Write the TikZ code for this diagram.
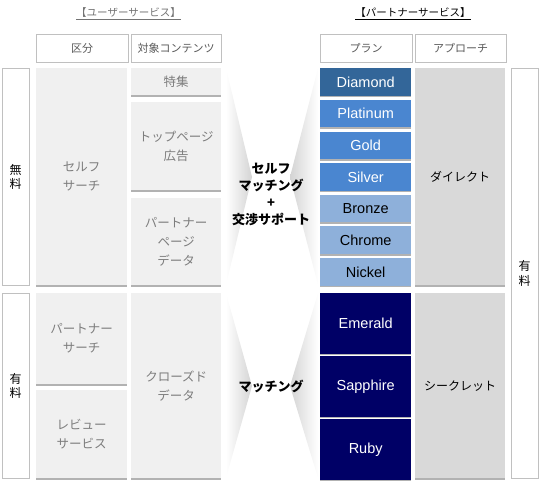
\documentclass[tikz,border=0pt]{standalone}
\usepackage{fontspec}
\setmainfont{Liberation Sans}
\newfontfamily\jp{Noto Sans CJK JP}
\usetikzlibrary{positioning,shadows}
\definecolor{cSoft}{RGB}{240,240,240}
\definecolor{cMid} {RGB}{217,217,217}
\definecolor{cLine}{RGB}{192,192,192}
\definecolor{cTxt} {RGB}{125,125,125}
\definecolor{cDia} {RGB}{51,102,153}
\definecolor{cHigh}{RGB}{74,134,208}
\definecolor{cLow} {RGB}{142,176,218}
\definecolor{cNavy}{RGB}{0,0,102}

\begin{document}
\begin{tikzpicture}[x=1pt,y=-1pt,
  title/.style={font=\jp\fontsize{10.5}{12}\selectfont,inner sep=0pt},
  head/.style={draw=cLine,fill=white,anchor=north west,minimum height=28pt,inner sep=0pt,
               font=\jp\fontsize{11}{13}\selectfont,text=black!65},
  side/.style={draw=cLine,fill=white,anchor=north west,minimum width=27pt,inner sep=0pt,
               align=center,font=\jp\fontsize{12}{14.5}\selectfont},
  cell/.style={fill=cSoft,anchor=north west,inner sep=0pt,align=center,text=cTxt,
               font=\jp\fontsize{12.5}{19}\selectfont,
               drop shadow={shadow xshift=0pt,shadow yshift=-1.6pt,fill=black,opacity=.3}},
  reach/.style={cell,fill=cMid,minimum width=90pt,text=black,font=\jp\fontsize{12}{14}\selectfont},
  plan/.style={cell,minimum width=91pt,minimum height=27.5pt,text=white,
               font=\fontsize{14.5}{16}\selectfont},
  gem/.style={plan,fill=cNavy,minimum height=60.5pt},
  match/.style={align=center,inner sep=0pt,font=\jp\bfseries\fontsize{13}{17}\selectfont},
]
\useasboundingbox (0,0) rectangle (541,490);

% titles
\node[title,text=black!55] (userT) at (128.5,14) {\underline{【ユーザーサービス】}};
\node[title] (partT) at (413,14) {\underline{【パートナーサービス】}};

% header row
\node[head,minimum width=92pt] (kubun)  at (36,34)  {区分};
\node[head,minimum width=90pt] (taisho) at (131,34) {対象コンテンツ};
\node[head,minimum width=92pt] (planH)  at (320,34) {プラン};
\node[head,minimum width=91pt] (appr)   at (415,34) {アプローチ};

% side labels
\node[side,minimum height=217pt] (free)  at (2,68)   {無\\料};
\node[side,minimum height=185pt] (paidL) at (2,293)  {有\\料};
\node[side,minimum height=410pt] (paidR) at (511,68) {有\\料};

% user service cells
\node[cell,minimum width=91pt,minimum height=217pt] (selfS) at (36,68)  {セルフ\\サーチ};
\node[cell,minimum width=90pt,minimum height=27pt]  (toku)  at (131,68) {特集};
\node[cell,minimum width=90pt,minimum height=88pt]  (topAd) at (131,102) {トップページ\\広告};
\node[cell,minimum width=90pt,minimum height=87pt]  (pData) at (131,198) {パートナー\\ページ\\データ};
\node[cell,minimum width=91pt,minimum height=91pt]  (pSrch) at (36,293) {パートナー\\サーチ};
\node[cell,minimum width=91pt,minimum height=88pt]  (rev)   at (36,390) {レビュー\\サービス};
\node[cell,minimum width=90pt,minimum height=185pt] (closed) at (131,293) {クローズド\\データ};

% matching funnels
\shade[left color=white,right color=black!17] (226,68) -- (252,177) -- (226,285) -- cycle;
\shade[left color=black!17,right color=white] (318,68) -- (290,177) -- (318,285) -- cycle;
\shade[left color=white,right color=black!17] (226,293) -- (252,386) -- (226,478) -- cycle;
\shade[left color=black!17,right color=white] (318,293) -- (290,386) -- (318,478) -- cycle;
\node[match] (selfM) at (271,194) {セルフ\\マッチング\\+\\交渉サポート};
\node[match] (match) at (271,386) {マッチング};

% partner plans
\node[plan,fill=cDia] (dia) at (320,68) {Diamond};
\node[plan,fill=cHigh,below=3.75pt of dia]  (plat)  {Platinum};
\node[plan,fill=cHigh,below=3.75pt of plat] (gold)  {Gold};
\node[plan,fill=cHigh,below=3.75pt of gold] (silv)  {Silver};
\node[plan,fill=cLow,text=black,below=3.75pt of silv] (bron) {Bronze};
\node[plan,fill=cLow,text=black,below=3.75pt of bron] (chro) {Chrome};
\node[plan,fill=cLow,text=black,below=3.75pt of chro] (nick) {Nickel};

\node[gem] (emer) at (320,293) {Emerald};
\node[gem,below=2pt of emer] (sapph) {Sapphire};
\node[gem,below=2pt of sapph] (ruby) {Ruby};

\node[reach,minimum height=217pt] (direct) at (415,68)  {ダイレクト};
\node[reach,minimum height=185pt] (secret) at (415,293) {シークレット};
\end{tikzpicture}
\end{document}
